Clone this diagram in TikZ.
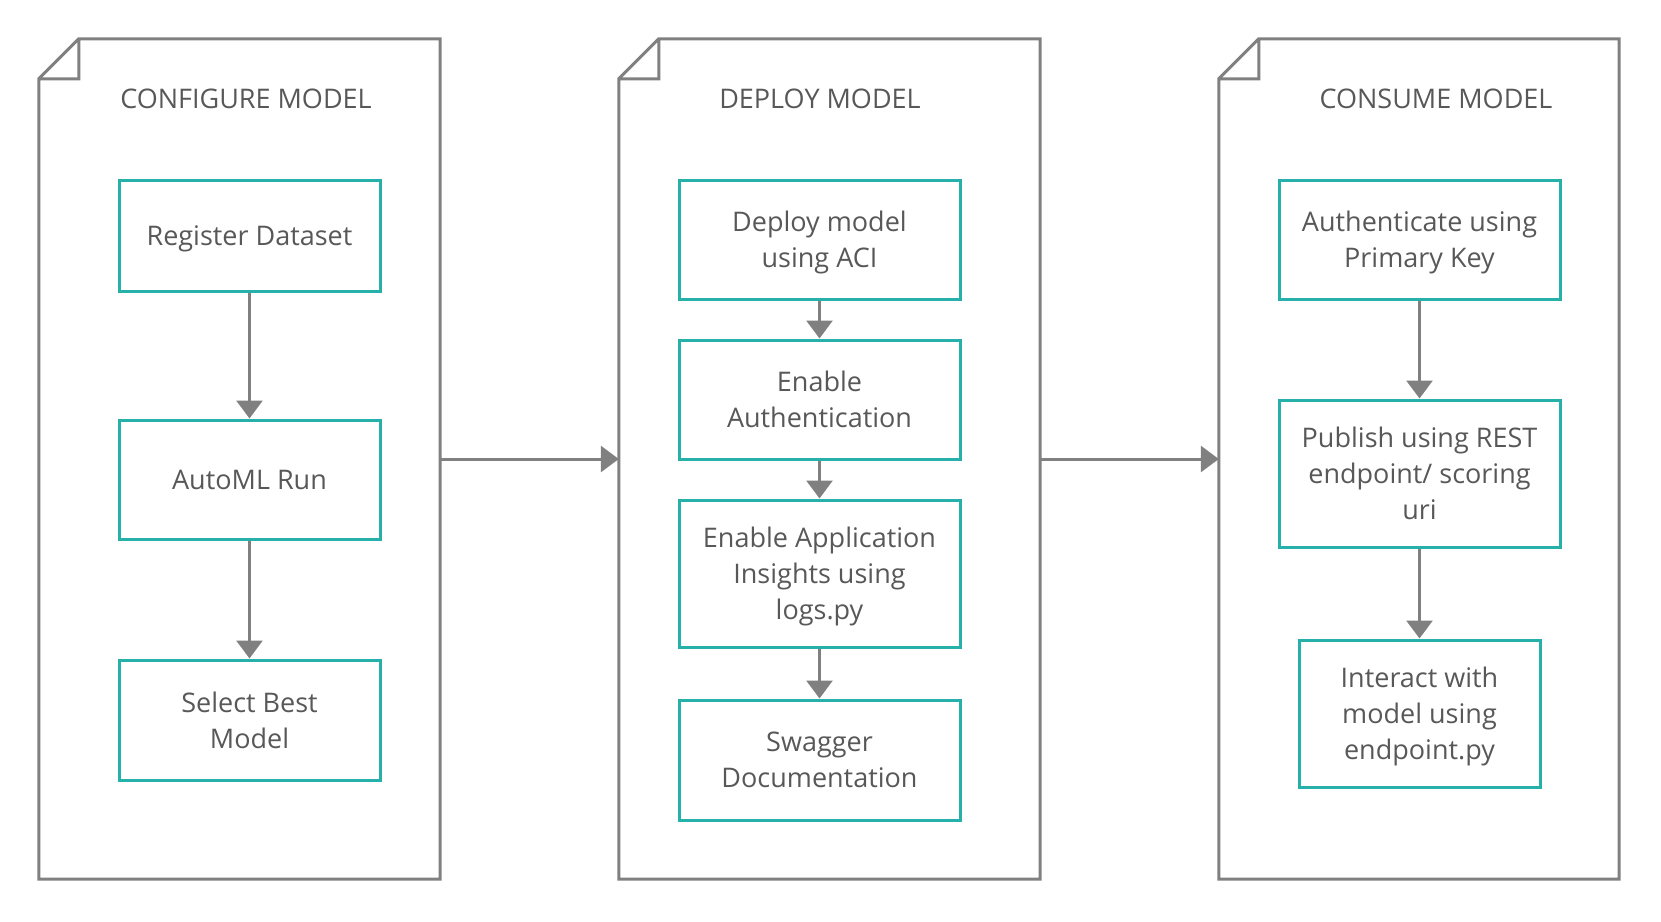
\documentclass[tikz,border=0pt]{standalone}
\usepackage{fontspec}
\setmainfont{Open Sans}
\usepackage{xcolor}
\usetikzlibrary{arrows.meta,positioning}

\definecolor{linegray}{RGB}{128,128,128}
\definecolor{boxteal}{RGB}{38,176,170}
\definecolor{textgray}{RGB}{88,88,88}

\begin{document}
\begin{tikzpicture}[x=1pt,y=-1pt,
    panel/.style={inner sep=0pt, minimum height=840pt},
    fold/.style={draw=linegray, line width=3pt},
    stage/.style={text=textgray, font=\fontsize{27}{32}\selectfont},
    box/.style={draw=boxteal, line width=3pt, align=center, inner sep=0pt,
        text depth=0pt, text=textgray, font=\fontsize{27}{36}\selectfont},
    flow/.style={draw=linegray, line width=3pt, -{Triangle[width=26pt,length=18pt]}}]
  \useasboundingbox (0,0) rectangle (1661,921);
  % 定义面板
  \node[panel, minimum width=401pt] (p1) at (239.5,459) {};
  \node[panel, minimum width=421pt] (p2) at (829.5,459) {};
  \node[panel, minimum width=400pt] (p3) at (1419,459) {};
  % 划折角
  \foreach \p in {p1,p2,p3}
    \draw[fold] ([xshift=40pt]\p.north west) -- (\p.north east) -- (\p.south east)
        -- (\p.south west) -- ([yshift=-40pt]\p.north west) -- cycle
      ([xshift=40pt]\p.north west) -- ([shift={(40pt,-40pt)}]\p.north west)
        -- ([yshift=-40pt]\p.north west);
  % 标题
  \node[stage] (t1) at (246,99) {CONFIGURE MODEL};
  \node[stage] (t2) at (820,99) {DEPLOY MODEL};
  \node[stage] (t3) at (1436,99) {CONSUME MODEL};
  % 第一列
  \node[box, minimum width=261pt, minimum height=111pt] (reg) at (249.5,235.5) {Register Dataset};
  \node[box, minimum width=261pt, minimum height=119pt] (run) at (249.5,479.5) {AutoML Run};
  \node[box, minimum width=261pt, minimum height=120pt] (best) at (249.5,720) {Select Best\\Model};
  % 第二列
  \node[box, minimum width=281pt, minimum height=119pt] (aci) at (819.5,239.5) {Deploy model\\using ACI};
  \node[box, minimum width=281pt, minimum height=119pt] (auth) at (819.5,399.5) {Enable\\Authentication};
  \node[box, minimum width=281pt, minimum height=147pt] (logs) at (819.5,573.5) {Enable Application\\Insights using\\logs.py};
  \node[box, minimum width=281pt, minimum height=120pt] (swag) at (819.5,760) {Swagger\\Documentation};
  % 第三列
  \node[box, minimum width=281pt, minimum height=119pt] (key) at (1419.5,239.5) {Authenticate using\\Primary Key};
  \node[box, minimum width=281pt, minimum height=147pt] (rest) at (1419.5,473.5) {Publish using REST\\endpoint/ scoring\\uri};
  \node[box, minimum width=241pt, minimum height=147pt] (call) at (1419.5,713.5) {Interact with\\model using\\endpoint.py};
  % 箭头
  \draw[flow] (reg) -- (run);
  \draw[flow] (run) -- (best);
  \draw[flow] (aci) -- (auth);
  \draw[flow] (auth) -- (logs);
  \draw[flow] (logs) -- (swag);
  \draw[flow] (key) -- (rest);
  \draw[flow] (rest) -- (call);
  \draw[flow] (p1.east) -- (p2.west);
  \draw[flow] (p2.east) -- (p3.west);
\end{tikzpicture}
\end{document}
